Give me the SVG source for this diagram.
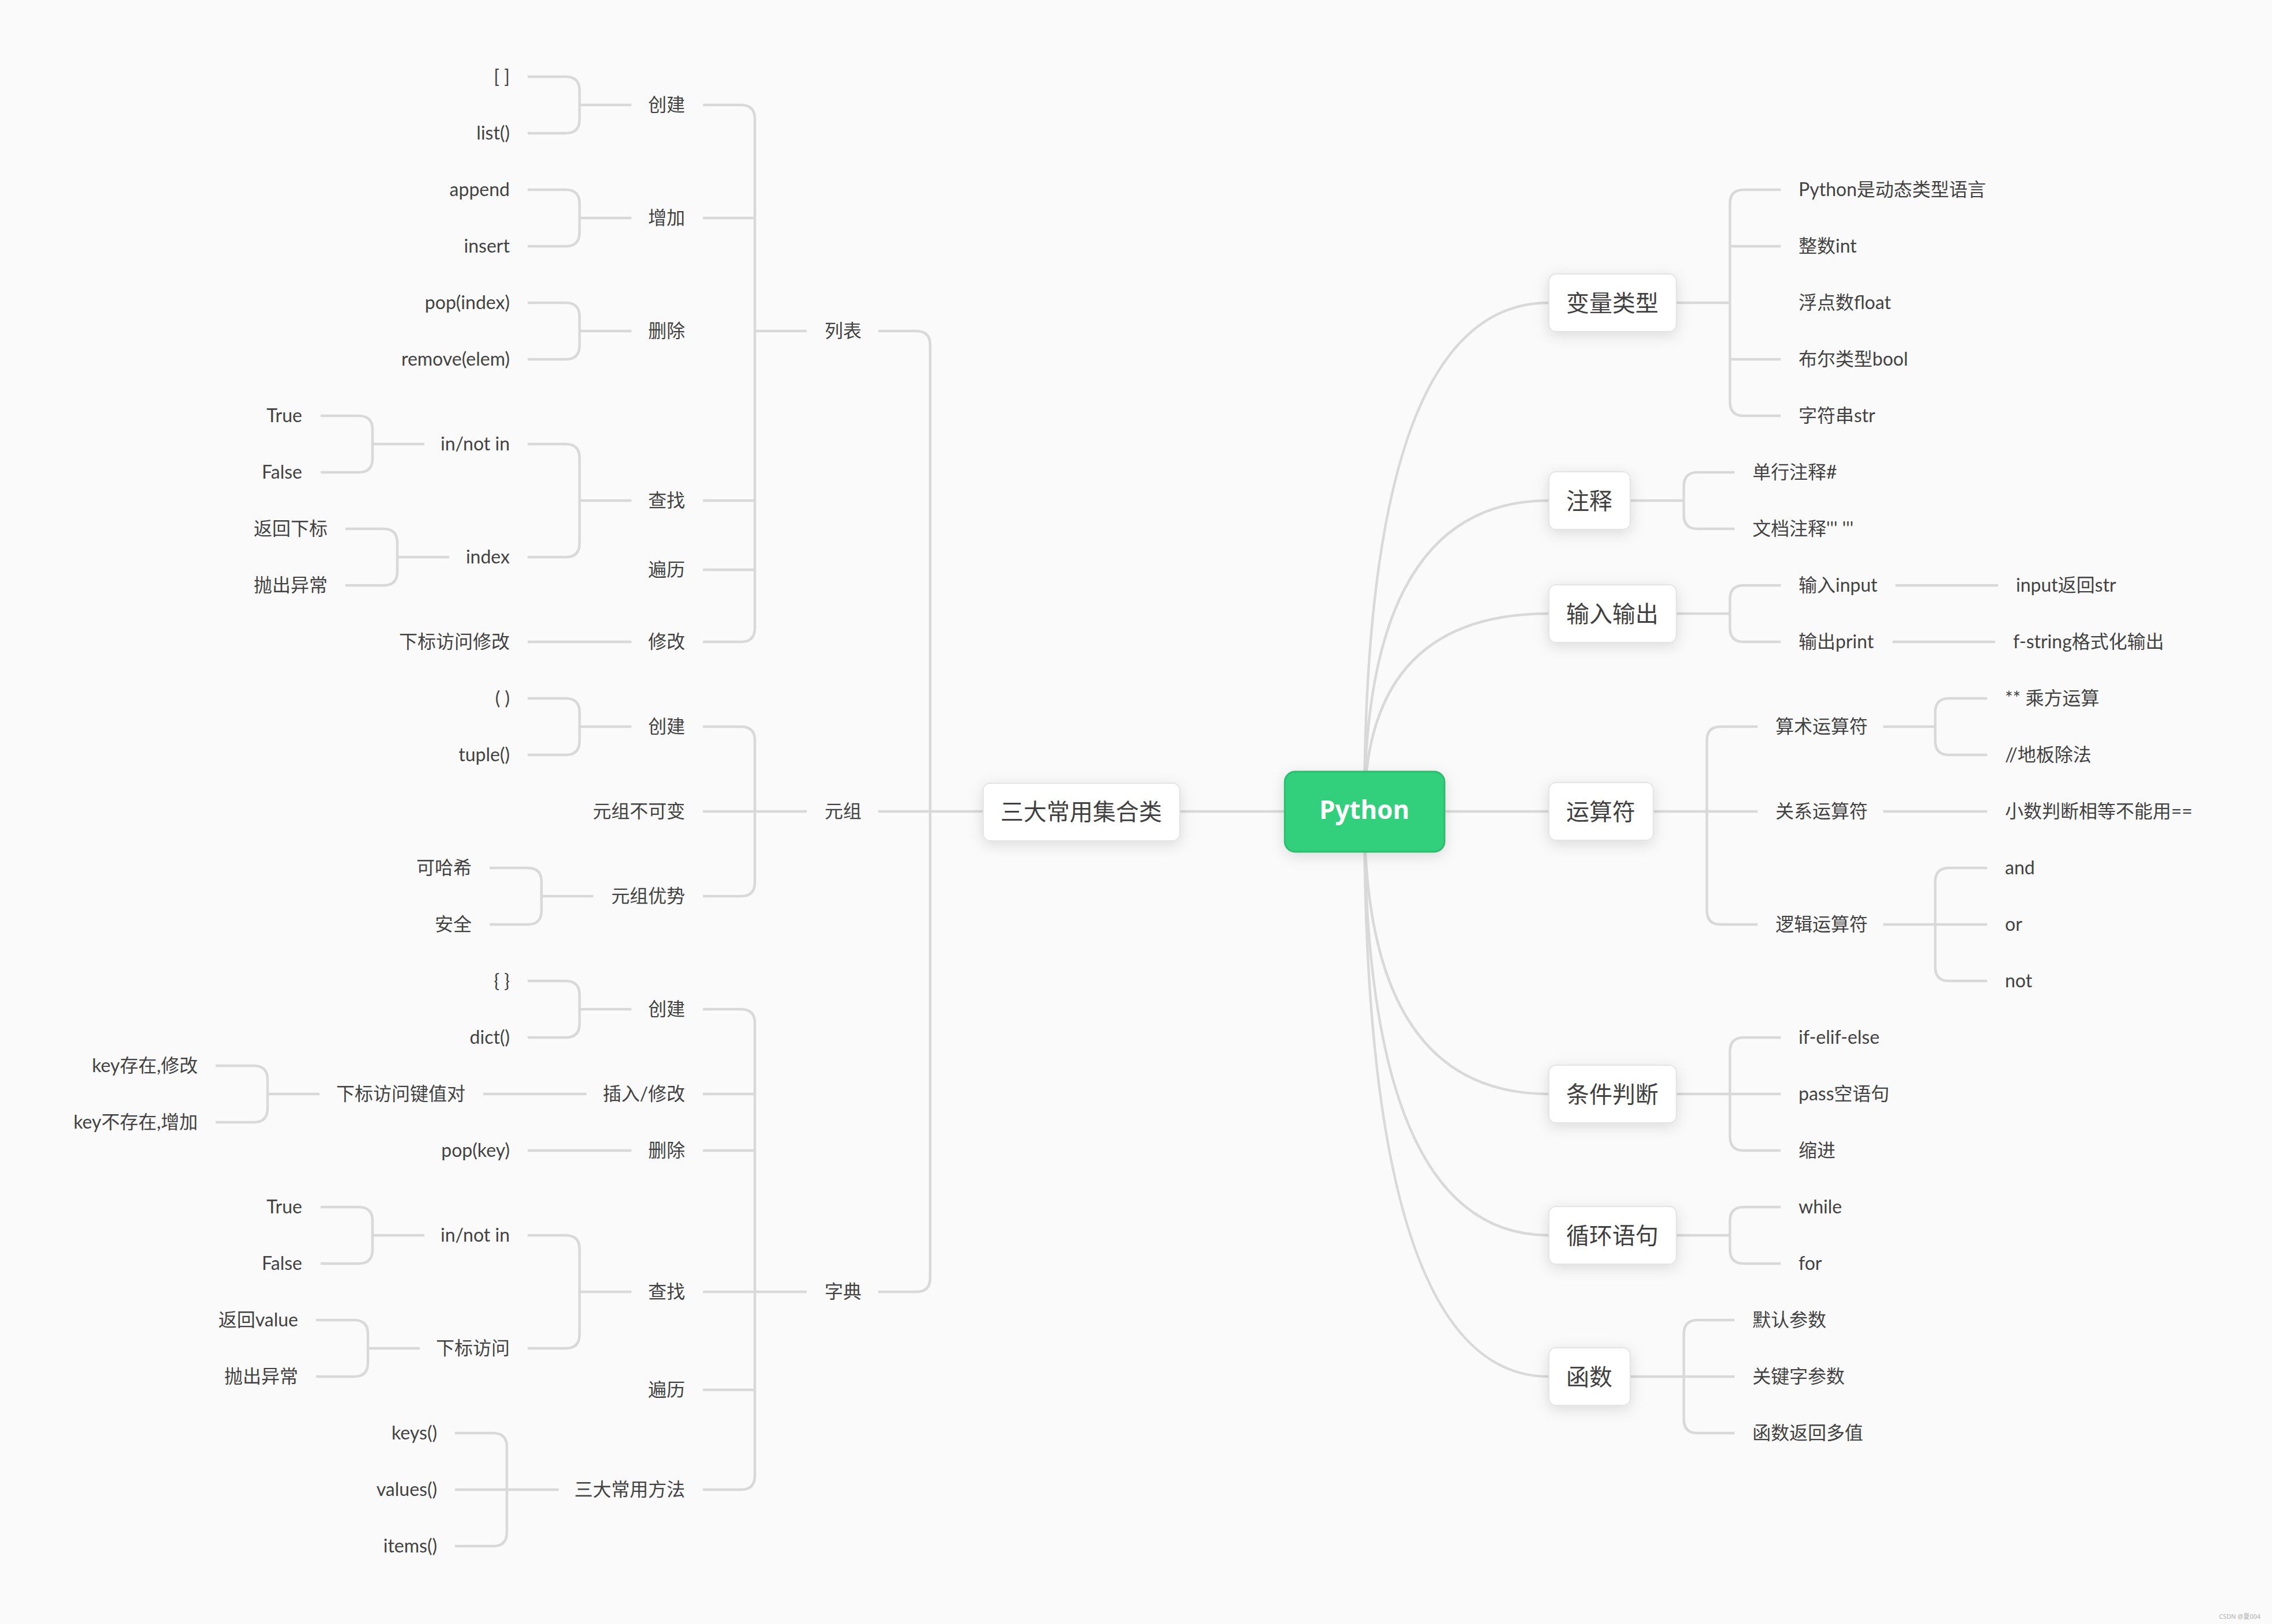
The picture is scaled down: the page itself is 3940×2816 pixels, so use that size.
<svg xmlns="http://www.w3.org/2000/svg" width="3940" height="2816" viewBox="0 0 3940 2816">
<defs>
<filter id="sh" x="-30%" y="-40%" width="160%" height="190%">
<feDropShadow dx="0" dy="6" stdDeviation="12" flood-color="#000" flood-opacity="0.12"/>
</filter>
<style>
.ln{fill:none;stroke:#d9d9d9;stroke-width:4.5}
.t{font-family:"Lato","Noto Sans CJK SC",sans-serif;font-size:32px;fill:#424242;dominant-baseline:central}
.l{text-anchor:end}
.r{text-anchor:start}
.box{fill:#fff;stroke:#e4e4e4;stroke-width:2;filter:url(#sh)}
.nt{font-family:"Noto Sans CJK SC",sans-serif;font-size:40px;fill:#404040;text-anchor:middle;dominant-baseline:central}
</style>
</defs>
<rect x="0" y="0" width="3940" height="2816" fill="#fafafa"/>

<g id="connectors">
<path class="ln" d="M2366 1407 Q2366 525 2686 525"/>
<path class="ln" d="M2366 1407 Q2366 868 2686 868"/>
<path class="ln" d="M2366 1407 Q2366 1064 2686 1064"/>
<path class="ln" d="M2366 1407 Q2366 1897 2686 1897"/>
<path class="ln" d="M2366 1407 Q2366 2142 2686 2142"/>
<path class="ln" d="M2366 1407 Q2366 2387 2686 2387"/>
<path class="ln" d="M2503 1407 H2686"/>
<path class="ln" d="M2046 1407 H2229"/>
<path class="ln" d="M1705 1407 H1523"/>
<path class="ln" d="M1523 574 H1589 Q1613 574 1613 598 V2216 Q1613 2240 1589 2240 H1523"/>
<path class="ln" d="M1399 574 H1309"/>
<path class="ln" d="M1219 182 H1285 Q1309 182 1309 206 V1089 Q1309 1113 1285 1113 H1219"/>
<path class="ln" d="M1219 378 H1309 M1219 868 H1309 M1219 988 H1309"/>
<path class="ln" d="M1095 182 H1005 M915 133 H981 Q1005 133 1005 157 V207 Q1005 231 981 231 H915"/>
<path class="ln" d="M1095 378 H1005 M915 329 H981 Q1005 329 1005 353 V403 Q1005 427 981 427 H915"/>
<path class="ln" d="M1095 574 H1005 M915 525 H981 Q1005 525 1005 549 V599 Q1005 623 981 623 H915"/>
<path class="ln" d="M1095 868 H1005 M915 770 H981 Q1005 770 1005 794 V942 Q1005 966 981 966 H915"/>
<path class="ln" d="M736 770 H646 M556 721 H622 Q646 721 646 745 V795 Q646 819 622 819 H556"/>
<path class="ln" d="M779 966 H689 M599 917 H665 Q689 917 689 941 V991 Q689 1015 665 1015 H599"/>
<path class="ln" d="M1095 1113 H915"/>
<path class="ln" d="M1399 1407 H1219"/>
<path class="ln" d="M1219 1260 H1285 Q1309 1260 1309 1284 V1530 Q1309 1554 1285 1554 H1219"/>
<path class="ln" d="M1095 1260 H1005 M915 1211 H981 Q1005 1211 1005 1235 V1285 Q1005 1309 981 1309 H915"/>
<path class="ln" d="M1029 1554 H939 M849 1505 H915 Q939 1505 939 1529 V1579 Q939 1603 915 1603 H849"/>
<path class="ln" d="M1399 2240 H1309"/>
<path class="ln" d="M1219 1750 H1285 Q1309 1750 1309 1774 V2559 Q1309 2583 1285 2583 H1219"/>
<path class="ln" d="M1219 1897 H1309 M1219 1995 H1309 M1219 2240 H1309 M1219 2410 H1309"/>
<path class="ln" d="M1095 1750 H1005 M915 1701 H981 Q1005 1701 1005 1725 V1775 Q1005 1799 981 1799 H915"/>
<path class="ln" d="M1017 1897 H838"/>
<path class="ln" d="M554 1897 H464 M374 1848 H440 Q464 1848 464 1872 V1922 Q464 1946 440 1946 H374"/>
<path class="ln" d="M1095 1995 H915"/>
<path class="ln" d="M1095 2240 H1005 M915 2142 H981 Q1005 2142 1005 2166 V2314 Q1005 2338 981 2338 H915"/>
<path class="ln" d="M736 2142 H646 M556 2093 H622 Q646 2093 646 2117 V2167 Q646 2191 622 2191 H556"/>
<path class="ln" d="M728 2338 H638 M548 2289 H614 Q638 2289 638 2313 V2363 Q638 2387 614 2387 H548"/>
<path class="ln" d="M969 2583 H789 M789 2485 H855 Q879 2485 879 2509 V2657 Q879 2681 855 2681 H789"/>
<path class="ln" d="M2907 525 H3000 M3088 329 H3024 Q3000 329 3000 353 V697 Q3000 721 3024 721 H3088 M3000 427 H3088 M3000 623 H3088"/>
<path class="ln" d="M2827 868 H2920 M3008 819 H2944 Q2920 819 2920 843 V893 Q2920 917 2944 917 H3008"/>
<path class="ln" d="M2907 1064 H3000 M3088 1015 H3024 Q3000 1015 3000 1039 V1089 Q3000 1113 3024 1113 H3088"/>
<path class="ln" d="M3287 1015 H3465 M3282 1113 H3460"/>
<path class="ln" d="M2867 1407 H3048 M3048 1260 H2984 Q2960 1260 2960 1284 V1579 Q2960 1603 2984 1603 H3048"/>
<path class="ln" d="M3266 1260 H3356 M3446 1211 H3380 Q3356 1211 3356 1235 V1285 Q3356 1309 3380 1309 H3446"/>
<path class="ln" d="M3266 1407 H3446"/>
<path class="ln" d="M3266 1603 H3446 M3446 1505 H3380 Q3356 1505 3356 1529 V1677 Q3356 1701 3380 1701 H3446"/>
<path class="ln" d="M2907 1897 H3088 M3088 1799 H3024 Q3000 1799 3000 1823 V1971 Q3000 1995 3024 1995 H3088"/>
<path class="ln" d="M2907 2142 H3000 M3088 2093 H3024 Q3000 2093 3000 2117 V2167 Q3000 2191 3024 2191 H3088"/>
<path class="ln" d="M2827 2387 H3008 M3008 2289 H2944 Q2920 2289 2920 2313 V2461 Q2920 2485 2944 2485 H3008"/>
</g>

<g id="python">
<rect x="2228" y="1338" width="277" height="139" rx="18" fill="#32cf7c" stroke="#2cbd6e" stroke-width="3" filter="url(#sh)"/>
<text x="2366" y="1403" font-family="'Noto Sans',sans-serif" font-weight="700" font-size="44" fill="#fff" text-anchor="middle" dominant-baseline="central">Python</text>
</g>

<g id="collections"><rect class="box" x="1705" y="1358" width="341" height="100" rx="12"/><text class="nt" x="1875" y="1405">三大常用集合类</text></g>
<g id="var-types"><rect class="box" x="2686" y="475" width="221" height="100" rx="12"/><text class="nt" x="2796" y="523">变量类型</text></g>
<g id="comments"><rect class="box" x="2686" y="818" width="141" height="100" rx="12"/><text class="nt" x="2756" y="866">注释</text></g>
<g id="io"><rect class="box" x="2686" y="1014" width="221" height="100" rx="12"/><text class="nt" x="2796" y="1062">输入输出</text></g>
<g id="operators"><rect class="box" x="2686" y="1357" width="181" height="100" rx="12"/><text class="nt" x="2776" y="1405">运算符</text></g>
<g id="conditions"><rect class="box" x="2686" y="1847" width="221" height="100" rx="12"/><text class="nt" x="2796" y="1895">条件判断</text></g>
<g id="loops"><rect class="box" x="2686" y="2092" width="221" height="100" rx="12"/><text class="nt" x="2796" y="2140">循环语句</text></g>
<g id="functions"><rect class="box" x="2686" y="2337" width="141" height="100" rx="12"/><text class="nt" x="2756" y="2385">函数</text></g>

<g transform="translate(0,-2)">
<g id="list"><text class="t r" x="1430" y="574">列表</text></g>
<g id="tuple"><text class="t r" x="1430" y="1407">元组</text></g>
<g id="dict"><text class="t r" x="1430" y="2240">字典</text></g>

<g id="list-children">
<text class="t l" x="1188" y="182">创建</text>
<text class="t l" x="1188" y="378">增加</text>
<text class="t l" x="1188" y="574">删除</text>
<text class="t l" x="1188" y="868">查找</text>
<text class="t l" x="1188" y="988">遍历</text>
<text class="t l" x="1188" y="1113">修改</text>
<text class="t l" x="884" y="133">[ ]</text>
<text class="t l" x="884" y="231">list()</text>
<text class="t l" x="884" y="329">append</text>
<text class="t l" x="884" y="427">insert</text>
<text class="t l" x="884" y="525">pop(index)</text>
<text class="t l" x="884" y="623">remove(elem)</text>
<text class="t l" x="884" y="770">in/not in</text>
<text class="t l" x="884" y="966">index</text>
<text class="t l" x="884" y="1113">下标访问修改</text>
<text class="t l" x="524" y="721">True</text>
<text class="t l" x="524" y="819">False</text>
<text class="t l" x="568" y="917">返回下标</text>
<text class="t l" x="568" y="1015">抛出异常</text>
</g>

<g id="tuple-children">
<text class="t l" x="1188" y="1260">创建</text>
<text class="t l" x="1188" y="1407">元组不可变</text>
<text class="t l" x="1188" y="1554">元组优势</text>
<text class="t l" x="884" y="1211">( )</text>
<text class="t l" x="884" y="1309">tuple()</text>
<text class="t l" x="818" y="1505">可哈希</text>
<text class="t l" x="818" y="1603">安全</text>
</g>

<g id="dict-children">
<text class="t l" x="1188" y="1750">创建</text>
<text class="t l" x="1188" y="1897">插入/修改</text>
<text class="t l" x="1188" y="1995">删除</text>
<text class="t l" x="1188" y="2240">查找</text>
<text class="t l" x="1188" y="2410">遍历</text>
<text class="t l" x="1188" y="2583">三大常用方法</text>
<text class="t l" x="884" y="1701">{ }</text>
<text class="t l" x="884" y="1799">dict()</text>
<text class="t l" x="807" y="1897">下标访问键值对</text>
<text class="t l" x="343" y="1848">key存在,修改</text>
<text class="t l" x="343" y="1946">key不存在,增加</text>
<text class="t l" x="884" y="1995">pop(key)</text>
<text class="t l" x="884" y="2142">in/not in</text>
<text class="t l" x="884" y="2338">下标访问</text>
<text class="t l" x="524" y="2093">True</text>
<text class="t l" x="524" y="2191">False</text>
<text class="t l" x="517" y="2289">返回value</text>
<text class="t l" x="517" y="2387">抛出异常</text>
<text class="t l" x="758" y="2485">keys()</text>
<text class="t l" x="758" y="2583">values()</text>
<text class="t l" x="758" y="2681">items()</text>
</g>

<g id="right-children">
<text class="t r" x="3119" y="329">Python是动态类型语言</text>
<text class="t r" x="3119" y="427">整数int</text>
<text class="t r" x="3119" y="525">浮点数float</text>
<text class="t r" x="3119" y="623">布尔类型bool</text>
<text class="t r" x="3119" y="721">字符串str</text>
<text class="t r" x="3039" y="819">单行注释#</text>
<text class="t r" x="3039" y="917">文档注释''' '''</text>
<text class="t r" x="3119" y="1015">输入input</text>
<text class="t r" x="3119" y="1113">输出print</text>
<text class="t r" x="3496" y="1015">input返回str</text>
<text class="t r" x="3491" y="1113">f-string格式化输出</text>
<text class="t r" x="3079" y="1260">算术运算符</text>
<text class="t r" x="3079" y="1407">关系运算符</text>
<text class="t r" x="3079" y="1603">逻辑运算符</text>
<text class="t r" x="3477" y="1211">** 乘方运算</text>
<text class="t r" x="3477" y="1309">//地板除法</text>
<text class="t r" x="3477" y="1407">小数判断相等不能用==</text>
<text class="t r" x="3477" y="1505">and</text>
<text class="t r" x="3477" y="1603">or</text>
<text class="t r" x="3477" y="1701">not</text>
<text class="t r" x="3119" y="1799">if-elif-else</text>
<text class="t r" x="3119" y="1897">pass空语句</text>
<text class="t r" x="3119" y="1995">缩进</text>
<text class="t r" x="3119" y="2093">while</text>
<text class="t r" x="3119" y="2191">for</text>
<text class="t r" x="3039" y="2289">默认参数</text>
<text class="t r" x="3039" y="2387">关键字参数</text>
<text class="t r" x="3039" y="2485">函数返回多值</text>
</g>
</g>

<text x="3848" y="2802" font-family="'Noto Sans','Noto Sans CJK SC',sans-serif" font-size="11" fill="#b0b0b0" dominant-baseline="central">CSDN @夏004</text>
</svg>
